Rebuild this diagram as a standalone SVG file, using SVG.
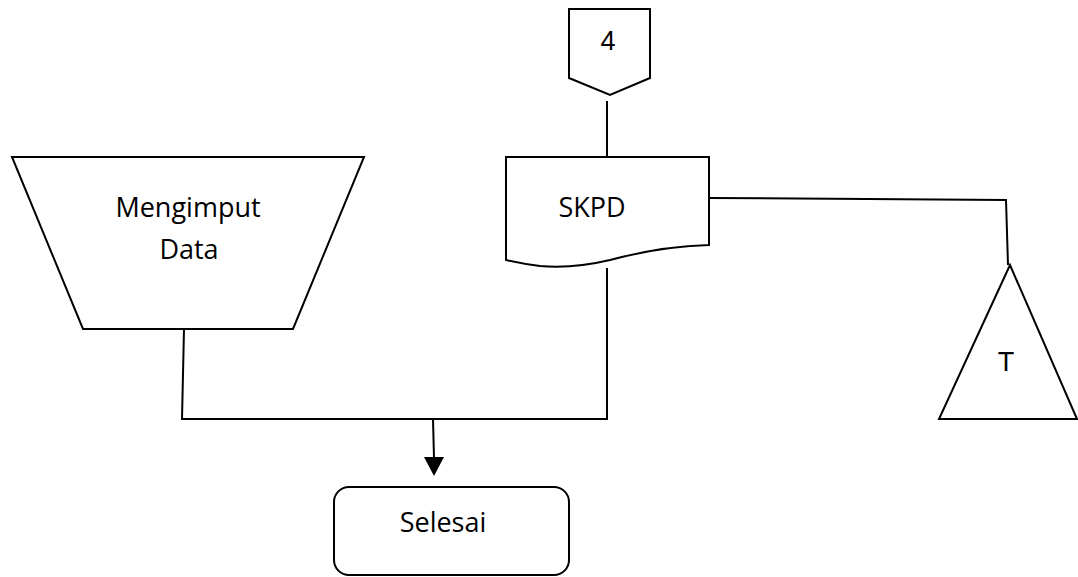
<svg xmlns="http://www.w3.org/2000/svg" width="1078" height="577" viewBox="0 0 1078 577">
<style>
.s{fill:#fff;stroke:#000;stroke-width:2}
.c{fill:none;stroke:#000;stroke-width:2}
.t{font-family:"Open Sans","Noto Sans",sans-serif;font-size:27px;fill:#000;text-anchor:middle}
.a{font-family:"Liberation Sans",Arial,sans-serif;font-size:27px;fill:#000;text-anchor:middle}
</style>
<rect width="1078" height="577" fill="#fff"/>
<g id="connectors">
<polyline class="c" points="607,101 607,157"/>
<polyline class="c" points="709,198 1006,200 1008,265"/>
<polyline class="c" points="184,329 182,419 607,419 607,268"/>
<line class="c" x1="433" y1="419" x2="434" y2="458"/>
<path d="M424,457 L444,457 L434,476 Z" fill="#000"/>
</g>
<g id="offpage4">
<polygon class="s" points="569,9 650,9 650,78 610,95 569,78"/>
<text class="a" x="608" y="50">4</text>
</g>
<g id="skpd">
<path class="s" d="M506,157 L709,157 L709,245 C670,246 640,252 610,260 C585,266 565,268 540,266 C525,264 515,262 506,260 Z"/>
<text class="t" x="592" y="217">SKPD</text>
</g>
<g id="mengimput">
<polygon class="s" points="12,157 364,157 293,329 83,329"/>
<text class="t" x="188" y="217" font-size="28">Mengimput</text>
<text class="t" x="189" y="259" font-size="28">Data</text>
</g>
<g id="T">
<polygon class="s" points="1010,265 1077,419 939,419"/>
<text class="a" x="1006" y="371">T</text>
</g>
<g id="selesai">
<rect class="s" x="334" y="487" width="235" height="88" rx="15" ry="15"/>
<text class="t" x="443" y="532">Selesai</text>
</g>
</svg>
